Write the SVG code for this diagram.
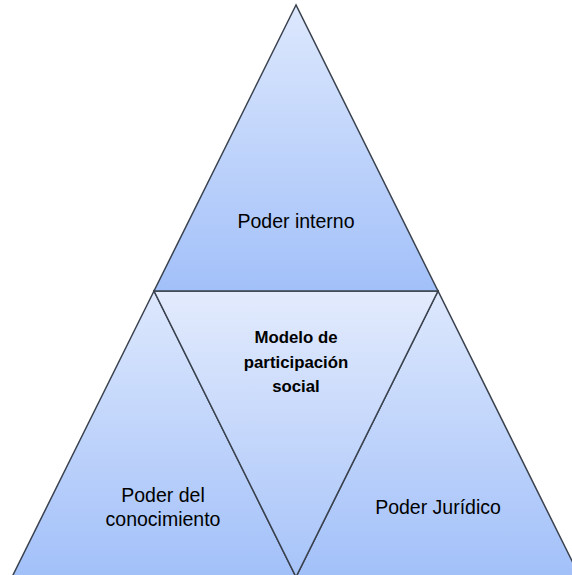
<svg xmlns="http://www.w3.org/2000/svg" width="572" height="575" viewBox="0 0 572 575">
  <defs>
    <linearGradient id="g" x1="0" y1="0" x2="0" y2="1">
      <stop offset="0" stop-color="#dde8fd"/>
      <stop offset="1" stop-color="#a2c0f9"/>
    </linearGradient>
    <linearGradient id="gi" x1="0" y1="0" x2="0" y2="1">
      <stop offset="0" stop-color="#e3ebfd"/>
      <stop offset="1" stop-color="#a6c3f9"/>
    </linearGradient>
    <style>
      .tri { fill: url(#g); stroke: #3a424e; stroke-width: 1.5; stroke-linejoin: miter; }
      .inv { fill: url(#gi); stroke: #3a424e; stroke-width: 1.5; }
      .lbl { font-family: "Liberation Sans", Arial, sans-serif; font-size: 19.5px; fill: #000; text-anchor: middle; }
      .bold { font-weight: bold; font-size: 16.8px; }
    </style>
  </defs>
  <rect width="572" height="575" fill="#ffffff"/>
  <g id="poder-del-conocimiento">
    <polygon class="tri" points="154,291 12,577 296,577"/>
    <text class="lbl" x="163" y="502">Poder del</text>
    <text class="lbl" x="163" y="526">conocimiento</text>
  </g>
  <g id="poder-juridico">
    <polygon class="tri" points="438,291 296,577 580,577"/>
    <text class="lbl" x="438" y="514">Poder Jurídico</text>
  </g>
  <g id="modelo-participacion-social">
    <polygon class="inv" points="154,291 438,291 296,577"/>
    <text class="lbl bold" x="296" y="343">Modelo de</text>
    <text class="lbl bold" x="296" y="368">participación</text>
    <text class="lbl bold" x="296" y="392">social</text>
  </g>
  <g id="poder-interno">
    <polygon class="tri" points="296,5 154,291 438,291"/>
    <text class="lbl" x="296" y="228">Poder interno</text>
  </g>
</svg>
